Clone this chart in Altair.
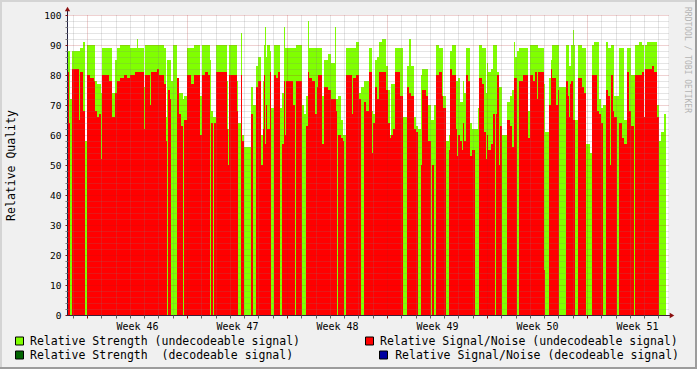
import altair as alt
import pandas as pd

# RRD rows: one consolidated row per pixel column (~1.68 h), 100 rows per week
seg_start = [
    0, 2, 3, 5, 12, 13, 16, 18, 20, 23,
    27, 28, 30, 32, 34, 35, 42, 45, 48, 50,
    53, 57, 60, 63, 68, 70, 71, 77, 78, 83,
    84, 90, 92, 97, 99, 100, 101, 103, 104, 106,
    110, 112, 114, 116, 117, 120, 124, 127, 133, 135,
    138, 141, 143, 144, 146, 147, 149, 160, 161, 162,
    170, 171, 174, 175, 177, 184, 186, 189, 191, 194,
    196, 197, 198, 199, 200, 203, 204, 207, 209, 211,
    213, 215, 217, 218, 219, 226, 228, 229, 235, 237,
    239, 241, 242, 245, 248, 250, 251, 255, 257, 261,
    264, 268, 269, 270, 271, 274, 276, 277, 279, 285,
    286, 289, 292, 294, 297, 299, 302, 305, 306, 308,
    310, 312, 315, 319, 321, 323, 324, 326, 328, 333,
    336, 340, 342, 344, 347, 349, 351, 354, 355, 359,
    361, 364, 365, 367, 369, 372, 375, 376, 379, 382,
    383, 385, 389, 390, 391, 393, 395, 396, 397, 399,
    401, 403, 405, 408, 411, 412, 415, 417, 419, 420,
    421, 424, 426, 428, 429, 430, 432, 433, 435, 440,
    443, 445, 447, 448, 450, 452, 456, 461, 463, 466,
    468, 470, 471, 477, 478, 482, 484, 485, 489, 491,
    492, 499, 501, 502, 503, 504, 506, 507, 508, 511,
    515, 517, 519, 523, 525, 527, 530, 532, 534, 536,
    539, 541, 543, 544, 546, 547, 550, 552, 555, 557,
    560, 562, 564, 567, 568, 572, 575, 577, 578, 580,
    585, 587, 590, 592, 594, 597,
]
last_row = 599

# Relative Strength (undecodeable signal)
strength = [
    88, 88, 72, 88, 88, 89, 91, 58, 90, 90,
    90, 78, 77, 77, 74, 89, 89, 74, 85, 89,
    90, 90, 90, 89, 89, 92, 89, 76, 90, 90,
    90, 90, 90, 89, 66, 85, 85, 85, 78, 90,
    79, 74, 74, 72, 73, 89, 89, 90, 73, 90,
    90, 90, 85, 68, 66, 66, 90, 78, 62, 90,
    78, 64, 94, 60, 56, 76, 70, 83, 86, 60,
    78, 90, 96, 86, 90, 88, 69, 90, 90, 90,
    69, 74, 96, 89, 89, 89, 89, 90, 70, 67,
    73, 98, 89, 89, 89, 89, 89, 73, 85, 87,
    84, 96, 72, 72, 73, 65, 60, 60, 89, 89,
    89, 91, 74, 76, 78, 78, 89, 68, 67, 85,
    86, 91, 92, 83, 75, 60, 77, 77, 89, 89,
    66, 83, 92, 83, 66, 63, 62, 80, 82, 82,
    70, 65, 65, 70, 90, 89, 89, 73, 58, 60,
    88, 90, 78, 78, 79, 71, 71, 78, 74, 89,
    89, 64, 62, 62, 69, 90, 89, 89, 74, 84,
    81, 82, 90, 90, 90, 81, 76, 76, 60, 71,
    73, 75, 91, 86, 88, 89, 89, 68, 90, 90,
    90, 90, 89, 77, 61, 79, 85, 90, 90, 90,
    76, 90, 90, 83, 83, 90, 95, 90, 65, 90,
    89, 89, 57, 54, 90, 91, 91, 72, 69, 70,
    91, 89, 89, 90, 90, 73, 73, 89, 89, 65,
    89, 89, 80, 80, 90, 91, 90, 66, 90, 91,
    91, 91, 70, 58, 61, 67,
]

# Relative Signal/Noise (undecodeable signal)
snr = [
    81, 64, 0, 82, 65, 81, 68, 0, 80, 79,
    78, 68, 66, 67, 52, 80, 78, 66, 74, 78,
    79, 80, 79, 80, 81, 81, 81, 62, 80, 70,
    81, 82, 80, 77, 58, 0, 75, 72, 0, 0,
    79, 67, 63, 0, 65, 80, 77, 80, 60, 80,
    81, 80, 0, 64, 0, 64, 81, 62, 50, 80,
    68, 0, 80, 58, 0, 67, 0, 76, 78, 50,
    62, 80, 57, 70, 62, 81, 0, 80, 79, 81,
    0, 57, 78, 60, 78, 70, 0, 78, 0, 0,
    63, 81, 79, 78, 67, 76, 80, 57, 76, 75,
    72, 72, 68, 0, 60, 59, 58, 0, 80, 67,
    79, 80, 72, 0, 71, 68, 81, 54, 64, 76,
    72, 81, 81, 75, 64, 59, 60, 62, 81, 73,
    0, 76, 74, 73, 62, 61, 0, 50, 75, 73,
    58, 0, 50, 0, 80, 81, 73, 69, 0, 55,
    82, 80, 62, 53, 60, 58, 55, 64, 58, 80,
    78, 53, 55, 0, 0, 79, 77, 61, 52, 60,
    55, 57, 67, 0, 67, 80, 50, 63, 0, 65,
    63, 56, 79, 79, 0, 78, 80, 59, 80, 78,
    81, 72, 81, 15, 0, 70, 82, 79, 70, 75,
    0, 78, 73, 66, 77, 78, 65, 65, 0, 79,
    76, 74, 0, 0, 80, 80, 68, 67, 64, 0,
    75, 73, 50, 80, 68, 66, 0, 64, 59, 57,
    81, 68, 63, 0, 80, 80, 81, 66, 82, 82,
    83, 81, 66, 0, 0, 0,
]

week_labels = ["Week 46", "Week 47", "Week 48", "Week 49", "Week 50", "Week 51"]
first_week_row = 20
rows_per_week = 100
total_rows = 601

series_names = [
    "Relative Strength (undecodeable signal)",
    "Relative Signal/Noise (undecodeable signal)",
    "Relative Strength \u00a0(decodeable signal)",
    "Relative Signal/Noise (decodeable signal)",
]
series_colors = ["#80ff00", "#ff0000", "#006400", "#0000a0"]

FONT = "DejaVu Sans Mono"
GRID = "#808080"
MGRID = "#b01818"
AXIS = "#202040"
ARROW = "#8b1010"

seg_end = seg_start[1:] + [last_row]
df = pd.DataFrame({"start": seg_start, "end": seg_end, "strength": strength, "snr": snr})

# axis tick positions
day_rows = [round(first_week_row + k * rows_per_week / 7, 2) for k in range(-1, 42)]
day_rows = [d for d in day_rows if 0 < d < total_rows]
mid_rows = [first_week_row + rows_per_week // 2 + rows_per_week * i for i in range(len(week_labels))]
x_values = sorted(day_rows + mid_rows)
is_major = f"(datum.value - {first_week_row}) % {rows_per_week} === 0"
is_mid = f"(datum.value - {first_week_row + rows_per_week // 2}) % {rows_per_week} === 0"
label_arr = "[" + ",".join(f"'{w}'" for w in week_labels) + "]"
x_label_expr = f"{is_mid} ? {label_arr}[(datum.value - {mid_rows[0]}) / {rows_per_week}] : ''"

x_scale = alt.Scale(domain=[0, total_rows], nice=False, zero=False)
y_scale = alt.Scale(domain=[0, 100], nice=False)
color_scale = alt.Scale(domain=series_names, range=series_colors)

x_axis = alt.Axis(
    values=x_values, labelExpr=x_label_expr, title=None, domain=False,
    grid=True, gridDash=[1, 1], gridWidth=1,
    gridColor={"condition": {"test": is_major, "value": MGRID}, "value": GRID},
    gridOpacity={"condition": {"test": is_mid, "value": 0}, "value": 0.4},
    ticks=True, tickSize=3,
    tickColor={"condition": {"test": is_major, "value": ARROW}, "value": "#606060"},
    tickOpacity={"condition": {"test": is_mid, "value": 0}, "value": 1},
    labelFont=FONT, labelFontSize=10, labelColor="#000000", labelPadding=3,
    labelAngle=0, labelOverlap=False, labelFlush=False, zindex=1,
)
y_axis = alt.Axis(
    values=list(range(0, 101, 2)),
    labelExpr="datum.value % 10 === 0 ? datum.label : ''",
    domain=False, grid=True, gridDash=[1, 1], gridWidth=1,
    gridColor={"condition": {"test": "datum.value % 10 === 0", "value": MGRID}, "value": GRID},
    gridOpacity=0.4,
    ticks=True, tickSize=2,
    tickColor={"condition": {"test": "datum.value % 10 === 0", "value": ARROW}, "value": "#808080"},
    labelFont=FONT, labelFontSize=9.5, labelColor="#000000", labelPadding=4,
    title="Relative Quality", titleFont=FONT, titleFontSize=11.5,
    titleFontWeight="normal", titleColor="#000000", titleX=-56, titleY=150,
    titleAngle=-90, titleAlign="center", titleBaseline="middle", zindex=1,
)

color_enc = alt.Color("series:N", scale=color_scale, legend=None)

base = alt.Chart(df)
green = base.transform_calculate(series=f"'{series_names[0]}'").mark_rect(opacity=1).encode(
    x=alt.X("start:Q", scale=x_scale, axis=x_axis),
    x2="end:Q",
    y=alt.Y("strength:Q", scale=y_scale, axis=y_axis),
    y2=alt.datum(0),
    color=color_enc,
)
red = base.transform_filter("datum.snr > 0").transform_calculate(
    series=f"'{series_names[1]}'").mark_rect(opacity=1).encode(
    x=alt.X("start:Q", scale=x_scale, axis=x_axis),
    x2="end:Q",
    y=alt.Y("snr:Q", scale=y_scale, axis=y_axis),
    y2=alt.datum(0),
    color=color_enc,
)

one = alt.Data(values=[{"k": 0}])
x_line = alt.Chart(one).mark_rule(color=AXIS, strokeWidth=1).encode(
    x=alt.value(0), x2=alt.value(603), y=alt.value(300.5))
y_line = alt.Chart(one).mark_rule(color=AXIS, strokeWidth=1).encode(
    x=alt.value(0.5), y=alt.value(-5), y2=alt.value(300))
x_arrow = alt.Chart(one).mark_point(shape="triangle-right", filled=True, color=ARROW, size=28, opacity=1).encode(
    x=alt.value(605), y=alt.value(300.5))
y_arrow = alt.Chart(one).mark_point(shape="triangle-up", filled=True, color=ARROW, size=28, opacity=1).encode(
    x=alt.value(0.5), y=alt.value(-6))
watermark = alt.Chart(one).mark_text(
    angle=90, font=FONT, fontSize=8, color="#b4b4b4", align="center", baseline="middle").encode(
    x=alt.value(620), y=alt.value(45), text=alt.value("RRDTOOL / TOBI OETIKER"))
frame_top = alt.Chart(one).mark_rule(color="#d4d4d4", strokeWidth=2).encode(
    x=alt.value(-67), x2=alt.value(630), y=alt.value(-14))
frame_left = alt.Chart(one).mark_rule(color="#d4d4d4", strokeWidth=2).encode(
    x=alt.value(-66), y=alt.value(-15), y2=alt.value(354))
frame_bottom = alt.Chart(one).mark_rule(color="#9c9c9c", strokeWidth=2).encode(
    x=alt.value(-67), x2=alt.value(630), y=alt.value(353))
frame_right = alt.Chart(one).mark_rule(color="#9c9c9c", strokeWidth=2).encode(
    x=alt.value(629), y=alt.value(-15), y2=alt.value(354))

# RRDtool-style legend (2 columns, second row right-justified)
legend_slots = [
    # (square left, square top, text x, text y, text align)
    (-51.5, 322, -37, 326.5, "left"),
    (298.5, 322, 313, 326.5, "left"),
    (-51.5, 336, -37, 340.5, "left"),
    (312.5, 336, 612, 340.5, "right"),
]
legend_layers = []
for name, colr, (sx, sy, tx, ty, al) in zip(series_names, series_colors, legend_slots):
    legend_layers.append(
        alt.Chart(one).mark_rect(color=colr, stroke="#000000", strokeWidth=1).encode(
            x=alt.value(sx), x2=alt.value(sx + 8), y=alt.value(sy), y2=alt.value(sy + 8))
    )
    legend_layers.append(
        alt.Chart(one).mark_text(font=FONT, fontSize=11.5, color="#000000", align=al,
                                 baseline="middle").encode(
            x=alt.value(tx), y=alt.value(ty), text=alt.value(name))
    )

chart = alt.layer(
    green, red, x_line, y_line, x_arrow, y_arrow, watermark,
    frame_top, frame_left, frame_bottom, frame_right, *legend_layers,
).properties(
    width=601, height=300,
    autosize=alt.AutoSizeParams(type="none"),
    padding={"left": 67, "top": 15, "right": 29, "bottom": 54},
).configure(background="#f0f0f0").configure_view(stroke=None, fill="#ffffff")

chart.save("out.html", embed_options={"renderer": "svg", "actions": False})
